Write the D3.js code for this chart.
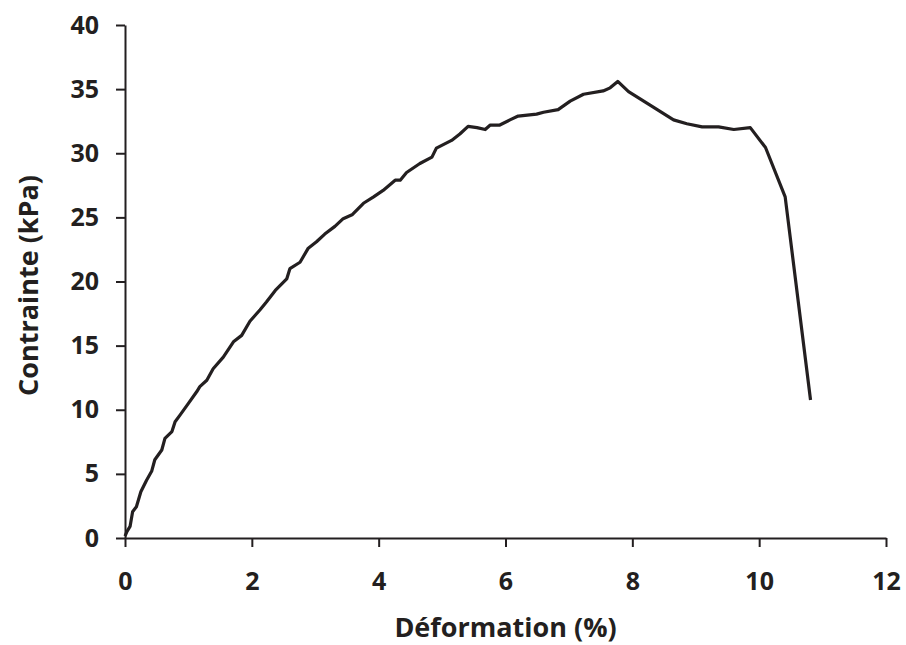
<!DOCTYPE html>
<html>
<head>
<meta charset="utf-8">
<script src="https://cdn.jsdelivr.net/npm/d3@7"></script>
<style>
  body { margin: 0; background: #fff; }
  text { font-family: "Open Sans", sans-serif; font-weight: bold; fill: #231f20; }
</style>
</head>
<body>
<div id="chart"></div>
<script>
// Stress-strain curve: Contrainte vs Déformation

const deformation = [0, 0.03, 0.08, 0.12, 0.18, 0.25, 0.34, 0.42, 0.47, 0.58, 0.63, 0.74, 0.79, 0.87,
  1.0, 1.13, 1.18, 1.29, 1.39, 1.55, 1.71, 1.84, 1.97, 2.13, 2.23, 2.37, 2.55, 2.6, 2.76, 2.89,
  3.02, 3.15, 3.31, 3.44, 3.58, 3.76, 3.92, 4.07, 4.26, 4.34, 4.44, 4.65, 4.84, 4.91, 5.15,
  5.28, 5.41, 5.55, 5.68, 5.76, 5.91, 6.07, 6.2, 6.49, 6.6, 6.83, 7.02, 7.23, 7.54, 7.65,
  7.77, 7.94, 8.28, 8.65, 8.86, 9.1, 9.36, 9.6, 9.86, 10.1, 10.41, 10.81];
const contrainte = [0.15, 0.5, 0.9, 2.05, 2.44, 3.6, 4.5, 5.2, 6.1, 6.86, 7.77, 8.3, 9.07, 9.6,
  10.5, 11.4, 11.8, 12.3, 13.2, 14.1, 15.3, 15.8, 16.9, 17.8, 18.4, 19.3, 20.2, 21.0, 21.5, 22.6,
  23.1, 23.7, 24.3, 24.9, 25.2, 26.1, 26.6, 27.1, 27.9, 27.9, 28.5, 29.2, 29.7, 30.4, 31.0,
  31.5, 32.1, 32.0, 31.85, 32.2, 32.2, 32.6, 32.9, 33.05, 33.2, 33.4, 34.06, 34.6, 34.86, 35.1,
  35.6, 34.8, 33.75, 32.6, 32.3, 32.06, 32.06, 31.85, 32.0, 30.45, 26.6, 10.76];
const xTicks = [0, 2, 4, 6, 8, 10, 12];
const yTicks = [0, 5, 10, 15, 20, 25, 30, 35, 40];

function createChart() {
    const margin = {top: 25, right: 20, bottom: 107, left: 125};
    const width = 886 - margin.left;
    const height = 538 - margin.top;

    const svg = d3.select('#chart').append('svg')
        .attr('width', 906)
        .attr('height', 645)
        .append('g')
        .attr('transform', `translate(${margin.left},${margin.top})`);

    const x = d3.scaleLinear().domain([0, 12]).range([0, width]);
    const y = d3.scaleLinear().domain([0, 40]).range([height, 0]);

    // X axis
    const xAxis = svg.append('g')
        .attr('transform', `translate(0,${height})`)
        .call(d3.axisBottom(x).tickValues(xTicks).tickSize(9).tickPadding(25).tickSizeOuter(0));
    xAxis.selectAll('text').style('font-size', '25px');

    // Y axis
    const yAxis = svg.append('g')
        .call(d3.axisLeft(y).tickValues(yTicks).tickSize(9).tickPadding(17).tickSizeOuter(0));
    yAxis.selectAll('text').style('font-size', '25px');

    svg.selectAll('.domain, .tick line')
        .attr('stroke', '#231f20')
        .attr('stroke-width', 2);

    // Axis titles
    svg.append('text')
        .attr('x', width / 2)
        .attr('y', height + 99)
        .attr('text-anchor', 'middle')
        .style('font-size', '27px')
        .text('Déformation (%)');

    svg.append('text')
        .attr('transform', 'rotate(-90)')
        .attr('x', -height / 2 - 4)
        .attr('y', -87)
        .attr('text-anchor', 'middle')
        .style('font-size', '27px')
        .text('Contrainte (kPa)');

    // Curve
    const points = deformation.map((d, i) => [d, contrainte[i]]);
    svg.append('path')
        .datum(points)
        .attr('fill', 'none')
        .attr('stroke', '#231f20')
        .attr('stroke-width', 3.2)
        .attr('stroke-linejoin', 'round')
        .attr('d', d3.line().x(d => x(d[0])).y(d => y(d[1])));
}

createChart();
</script>
</body>
</html>
